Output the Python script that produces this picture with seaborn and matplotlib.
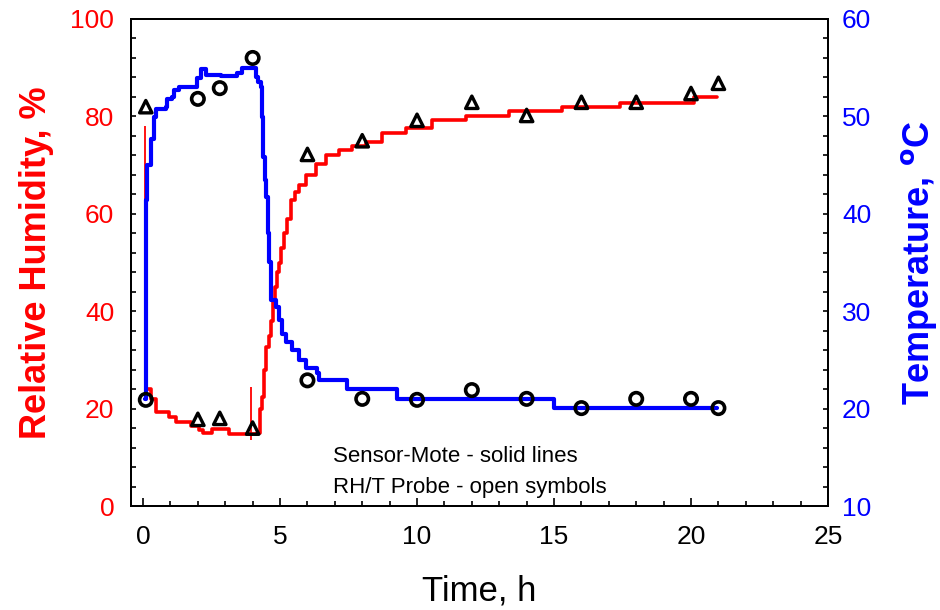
import numpy as np
import pandas as pd
import matplotlib
matplotlib.use("Agg")
import matplotlib.pyplot as plt
import seaborn as sns
from matplotlib.ticker import MultipleLocator

# Sensor-Mote RH (red line), step-wise
rh_time = [0.15, 0.29, 0.47, 0.95, 1.2, 1.75, 2.04, 2.2, 2.5, 3.14, 4.16, 4.27, 4.34,
           4.42, 4.49, 4.6, 4.67, 4.75, 4.82, 4.9, 4.96, 5.05, 5.15, 5.25, 5.4, 5.55,
           5.7, 5.95, 6.3, 6.68, 7.15, 7.63, 8.14, 8.72, 9.6, 10.55, 11.8, 13.36,
           15.3, 17.4, 20.1, 20.95]
rh_mote = [24, 22, 19.3, 18.3, 17.2, 16.5, 15.6, 15, 15.8, 14.8, 15, 20, 22.4,
           28, 32.6, 35, 38, 42, 45, 48, 50, 53, 56, 59, 62.8, 64.5,
           66, 68, 70.3, 72, 73, 74, 74.7, 76.5, 77.7, 79.2, 80, 81.2,
           82, 82.8, 83.9, 83.9]
# thin spikes in the RH record
spike_time = [0.08, 3.94]
spike_low = [24, 13.5]
spike_high = [78, 24.5]

# Sensor-Mote temperature (blue line)
t_time = [0.07, 0.11, 0.15, 0.29, 0.4, 0.47, 0.84, 0.88, 1.06, 1.13, 1.31, 1.93,
          1.97, 2.12, 2.3, 2.85, 3.43, 3.6, 4.05, 4.12, 4.2, 4.3, 4.34, 4.38, 4.45,
          4.49, 4.55, 4.6, 4.67, 4.85, 4.96, 5.07, 5.22, 5.44, 5.69, 5.95, 6.35,
          6.42, 7.45, 9.27, 15.0, 20.95]
t_mote = [21, 41.4, 45, 47.7, 49.9, 50.8, 51, 51.8, 52, 52.7, 53, 53,
          53.9, 54.9, 54.2, 54.1, 54.5, 55, 55, 54, 53.5, 53, 49.9, 45.8, 43.5,
          41.7, 38, 35, 31.1, 30.4, 29.1, 27.7, 26.8, 26, 25, 24.2, 23.7,
          22.9, 22, 21, 20.05, 20.05]

# RH/T probe (open symbols)
probe_time = [0.1, 2.0, 2.8, 4.0, 6.0, 8.0, 10.0, 12.0, 14.0, 16.0, 18.0, 20.0, 21.0]
probe_rh = [82, 17.8, 18, 16, 72.2, 75, 79.2, 82.9, 80.2, 82.9, 82.9, 84.7, 86.8]
probe_t = [20.9, 51.8, 52.9, 56.0, 22.9, 21.0, 20.9, 21.9, 21.0, 20.05, 21.0, 21.0, 20.05]

sns.set_style("ticks")
plt.rcParams['font.family'] = ['Liberation Sans', 'DejaVu Sans']
plt.rcParams['text.color'] = 'black'
plt.rcParams['axes.labelcolor'] = 'black'

fig = plt.figure(figsize=(9.4, 6.1), dpi=100)
ax = fig.add_axes([131 / 940, 1 - 506 / 610, (828 - 131) / 940, (506 - 19) / 610])
ax2 = ax.twinx()

red = '#ff0000'
blue = '#0000ff'

sns.lineplot(x=rh_time, y=rh_mote, ax=ax, color=red, linewidth=2.6,
             drawstyle='steps-post', estimator=None, sort=False)
ax.vlines(spike_time, spike_low, spike_high, color=red, linewidth=1.3)
sns.scatterplot(x=probe_time, y=probe_rh, ax=ax, marker='^', s=80,
                facecolor='none', edgecolor='black', linewidth=2.4, zorder=5)

sns.lineplot(x=t_time, y=t_mote, ax=ax2, color=blue, linewidth=3.0,
             drawstyle='steps-post', estimator=None, sort=False)
sns.scatterplot(x=probe_time, y=probe_t, ax=ax2, marker='o', s=80,
                facecolor='none', edgecolor='black', linewidth=2.6, zorder=5)

ax.set_xlim(-0.44, 25)
ax.set_ylim(0, 100)
ax2.set_ylim(10, 60)

ax.xaxis.set_major_locator(MultipleLocator(5))
ax.xaxis.set_minor_locator(MultipleLocator(1))
ax.yaxis.set_major_locator(MultipleLocator(20))
ax.yaxis.set_minor_locator(MultipleLocator(4))
ax2.yaxis.set_major_locator(MultipleLocator(10))
ax2.yaxis.set_minor_locator(MultipleLocator(2))

for a in (ax, ax2):
    for s in a.spines.values():
        s.set_color('black')
        s.set_linewidth(1.4)
        s.set_visible(True)

ax.tick_params(axis='x', which='both', direction='in', top=False, colors='black',
               labelsize=19, pad=14)
ax.tick_params(axis='x', which='major', length=6, width=1.2)
ax.tick_params(axis='x', which='minor', length=3.5, width=1.2)
ax.tick_params(axis='y', which='both', direction='in', length=3.5, width=1.2,
               color='black', labelcolor=red, labelsize=19, pad=12)
ax2.tick_params(axis='y', which='both', direction='in', length=3.5, width=1.2,
                color='black', labelcolor=blue, labelsize=19, pad=10)

ax.set_xlabel('Time, h', fontsize=25, labelpad=18, color='black')
ax.set_ylabel('Relative Humidity, %', fontsize=26, fontweight='bold', color=red,
              labelpad=12)
ax2.set_ylabel('Temperature, $^{\\mathbf{o}}$C', fontsize=26, fontweight='bold',
               color=blue, labelpad=20)

ax.text(6.95, 10.1, 'Sensor-Mote - solid lines', fontsize=16, va='center',
        ha='left', color='black')
ax.text(6.95, 3.7, 'RH/T Probe - open symbols', fontsize=16, va='center',
        ha='left', color='black')

fig.savefig('out.png', dpi=100)
